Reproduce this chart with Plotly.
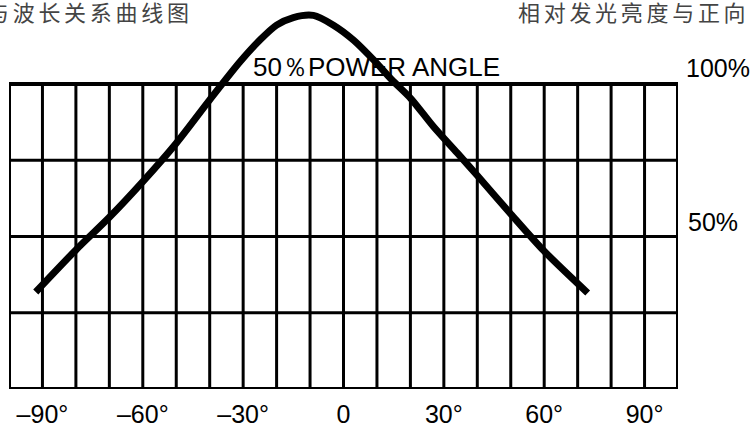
import plotly.graph_objects as go

# Curve data (angle in degrees, relative intensity in grid units; grid top = 100)
angles = [-92, -80, -70, -60, -50, -40, -31, -25, -20, -15, -9, -3, 3, 9, 14.5, 20, 27, 34, 40, 50, 60, 73]
intensity = [31.8, 45.6, 56.3, 68.0, 80.6, 94.8, 107.2, 114.4, 119.3, 121.8, 122.5, 119.3, 114.4, 107.9,
             101.3, 95.4, 85.9, 77.4, 70.0, 57.4, 45.2, 31.5]

# Axis ticks
tick_vals = [-90, -60, -30, 0, 30, 60, 90]
tick_text = ["–90°", "–60°", "–30°", "0", "30°", "60°", "90°"]

# Grid definition
grid_x = list(range(-100, 101, 10))
grid_y = [0, 25, 50, 75, 100]

W, H = 753, 428
ml, mr, mt, mb = 9, 75, 8, 39
PW, PH = W - ml - mr, H - mt - mb
y_top = PH / 3.05  # keep 3.05 px per unit


def px_x(p):  # pixel -> paper x (plot-area fraction)
    return (p - ml) / PW


def px_y(p):  # pixel -> paper y (plot-area fraction)
    return (H - mb - p) / PH


fig = go.Figure()

fig.add_trace(go.Scatter(
    x=angles, y=intensity, mode="lines",
    line=dict(color="black", width=7, shape="spline", smoothing=0.8),
    hoverinfo="skip", showlegend=False,
))

shapes = []
for gx in grid_x:
    w = 4 if gx in (grid_x[0], grid_x[-1]) else 3
    shapes.append(dict(type="line", xref="x", yref="y", x0=gx, x1=gx, y0=0, y1=100,
                       line=dict(color="black", width=w), layer="below"))
for gy in grid_y:
    w = 4 if gy in (grid_y[0], grid_y[-1]) else 3
    shapes.append(dict(type="line", xref="x", yref="y", x0=-100, x1=100, y0=gy, y1=gy,
                       line=dict(color="black", width=w), layer="below"))

latin = "Liberation Sans, Arial, sans-serif"
cjk = "Noto Sans CJK SC, sans-serif"
sp = '<span style="letter-spacing:3.7px">{}</span>'

annotations = [
    dict(text="50％POWER ANGLE", x=10, y=105.6, xref="x", yref="y", showarrow=False,
         xanchor="center", yanchor="middle", font=dict(family=latin, size=26, color="black")),
    dict(text="100%", x=px_x(684), y=105.2, xref="paper", yref="y", showarrow=False,
         xanchor="left", yanchor="middle", font=dict(family=latin, size=25, color="black")),
    dict(text="50%", x=px_x(686), y=54.8, xref="paper", yref="y", showarrow=False,
         xanchor="left", yanchor="middle", font=dict(family=latin, size=25, color="black")),
    dict(text=sp.format("与波长关系曲线图"), x=px_x(195), y=px_y(11), xref="paper", yref="paper",
         showarrow=False, xanchor="right", yanchor="middle",
         font=dict(family=cjk, size=22, color="#444")),
    dict(text=sp.format("相对发光亮度与正向"), x=px_x(516), y=px_y(11), xref="paper", yref="paper",
         showarrow=False, xanchor="left", yanchor="middle",
         font=dict(family=cjk, size=22, color="#444")),
]

fig.update_layout(
    width=W, height=H,
    margin=dict(l=ml, r=mr, t=mt, b=mb, autoexpand=False),
    paper_bgcolor="white", plot_bgcolor="white",
    shapes=shapes, annotations=annotations,
    xaxis=dict(range=[-100, 100], tickvals=tick_vals, ticktext=tick_text,
               showgrid=False, zeroline=False, showline=False, ticks="",
               ticklabelstandoff=8, automargin=False,
               tickfont=dict(family=latin, size=25, color="black")),
    yaxis=dict(range=[0, y_top], showgrid=False, zeroline=False, showline=False,
               showticklabels=False, ticks="", automargin=False),
)

fig.write_html("out.html", config={"displayModeBar": False},
               post_script="document.body.style.margin='0';")
